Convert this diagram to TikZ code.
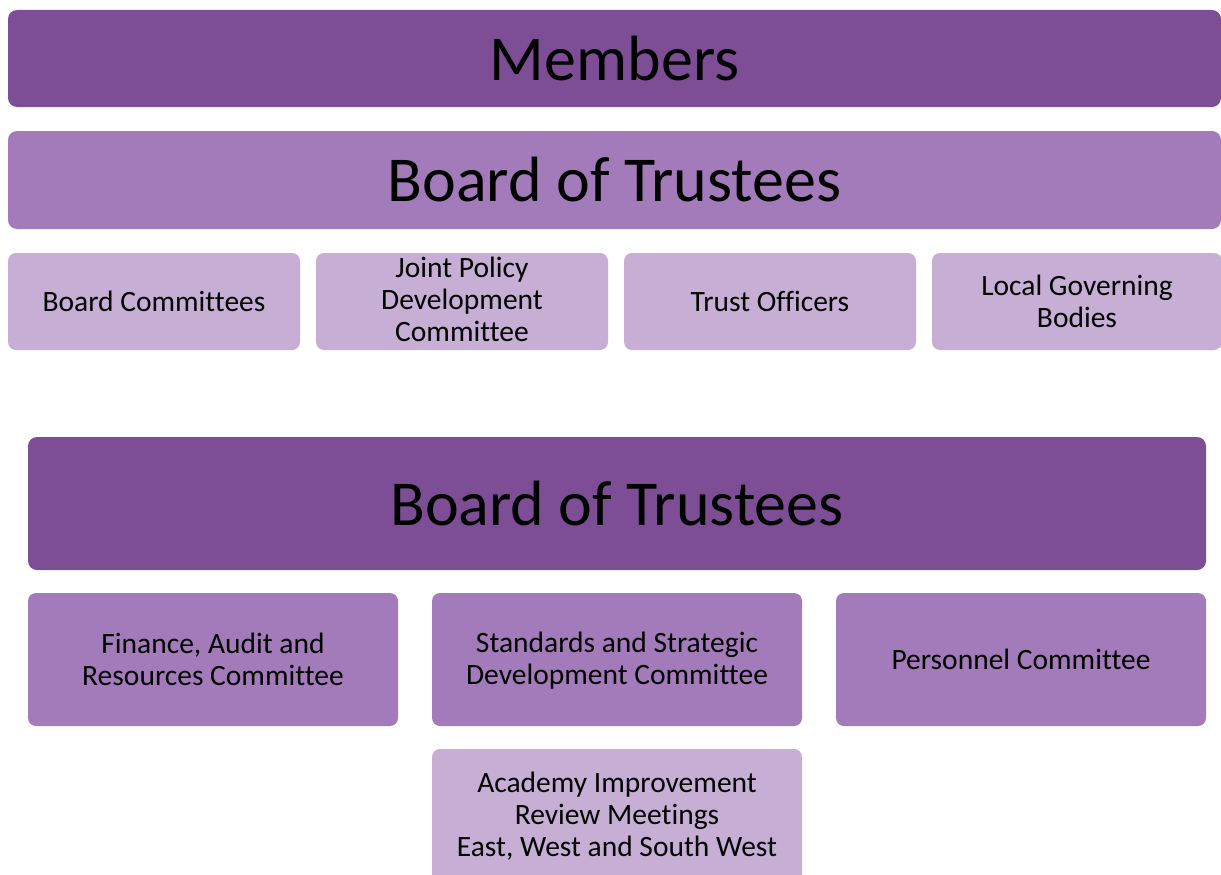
\documentclass[tikz,border=0pt]{standalone}
\usepackage{fontspec}
\setmainfont[RawFeature={-liga;-clig;-calt;-dlig}]{Carlito}
\definecolor{pdark}{HTML}{7D4E96}
\definecolor{pmid}{HTML}{A37ABA}
\definecolor{plight}{HTML}{C6AED5}
\tikzset{
  box/.style={rounded corners=8pt, inner sep=0pt, align=center, text=black, font=\fontsize{29.5}{32}\selectfont},
  bigbox/.style={box, rounded corners=9pt, font=\fontsize{64}{70}\selectfont},
  label/.style={inner sep=0pt, align=center, text=black, font=\fontsize{29.5}{32}\selectfont},
}
\begin{document}
\begin{tikzpicture}[x=1pt,y=-1pt]
\useasboundingbox (0,0) rectangle (1221,875);
\clip (0,0) rectangle (1221,875);
% top section
\node[bigbox, fill=pdark, minimum width=1213pt, minimum height=97pt] (members) at (614.5,58.5) {Members};
\node[bigbox, fill=pmid, minimum width=1213pt, minimum height=98pt] (bot1) at (614.5,180) {Board of Trustees};
\node[box, fill=plight, minimum width=292pt, minimum height=97pt] (bc) at (154,301.5) {Board Committees};
\node[box, fill=plight, minimum width=292pt, minimum height=97pt] (jpd) at (462,301.5) {};
\node[label] (jpdtext) at (462,299.5) {Joint Policy\\Development\\Committee};
\node[box, fill=plight, minimum width=292pt, minimum height=97pt] (to) at (770,301.5) {Trust Officers};
\node[box, fill=plight, minimum width=290pt, minimum height=97pt] (lgb) at (1077,301.5) {Local Governing\\Bodies};
% bottom section
\node[bigbox, fill=pdark, minimum width=1178pt, minimum height=133pt] (bot2) at (617,503.5) {Board of Trustees};
\node[box, fill=pmid, minimum width=370pt, minimum height=133pt] (far) at (213,659.5) {Finance, Audit and\\Resources Committee};
\node[box, fill=pmid, minimum width=370pt, minimum height=133pt] (ssd) at (617,659.5) {};
\node[label] (ssdtext) at (617,661) {Standards and Strategic\\Development Committee};
\node[box, fill=pmid, minimum width=370pt, minimum height=133pt] (pc) at (1021,659.5) {Personnel Committee};
\node[box, fill=plight, minimum width=370pt, minimum height=140pt] (aim) at (617,819) {};
\node[label] (aimtext) at (617,816) {Academy Improvement\\Review Meetings\\East, West and South West};
\end{tikzpicture}
\end{document}
